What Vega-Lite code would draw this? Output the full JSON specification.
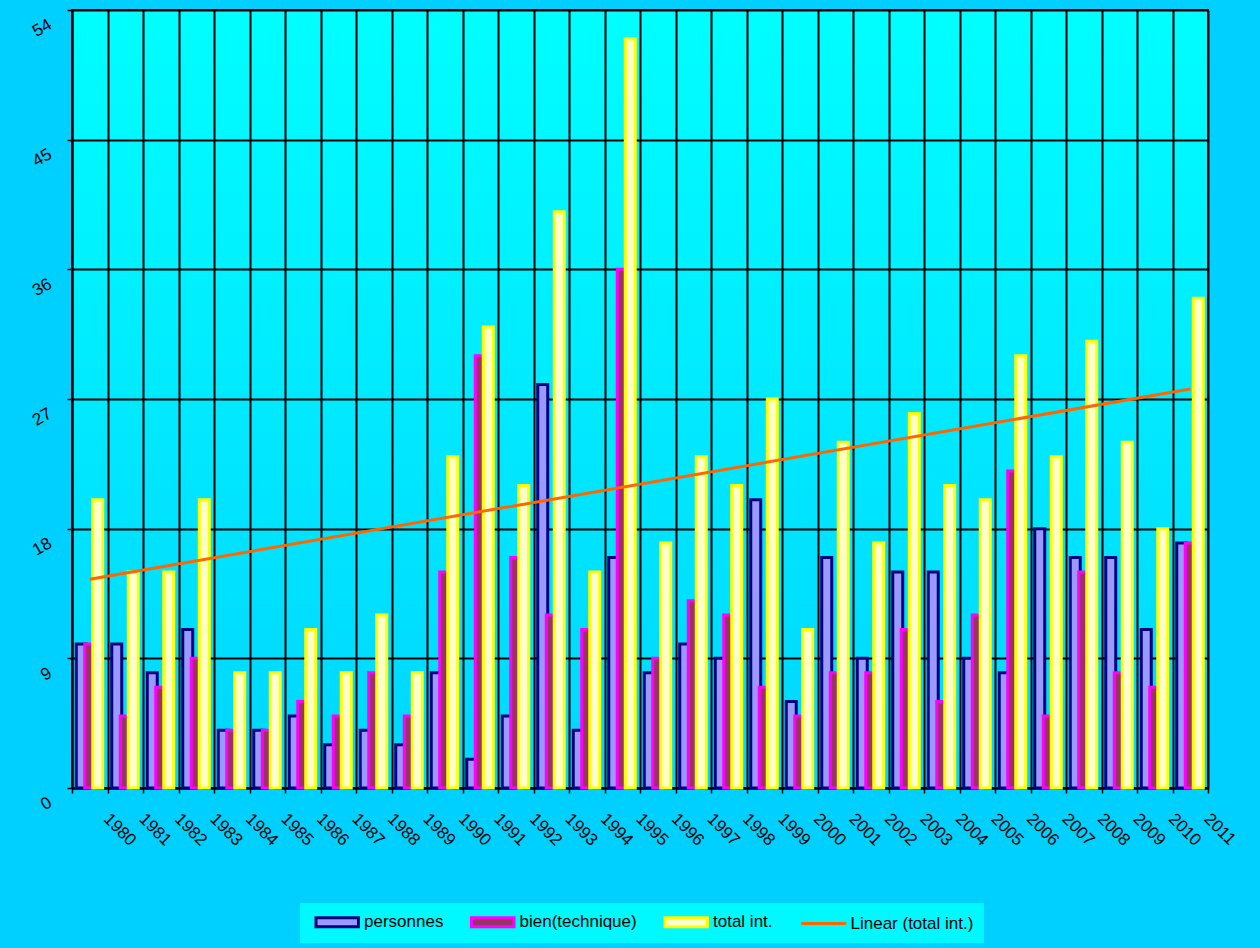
{
  "$schema": "https://vega.github.io/schema/vega-lite/v6.json",
  "width": 1136,
  "height": 778,
  "autosize": {"type": "none"},
  "padding": {"left": 72, "top": 10, "right": 52, "bottom": 160},
  "background": "#00D0FF",
  "view": {
    "fill": {"gradient": "linear", "x1": 0, "y1": 0, "x2": 0, "y2": 1,
      "stops": [{"offset": 0, "color": "#00FEFF"}, {"offset": 1, "color": "#00D6FF"}]},
    "stroke": "#000000",
    "strokeWidth": 2
  },
  "config": {
    "font": "Liberation Sans",
    "view": {
      "fill": {"gradient": "linear", "x1": 0, "y1": 0, "x2": 0, "y2": 1,
        "stops": [{"offset": 0, "color": "#00FEFF"}, {"offset": 1, "color": "#00D6FF"}]},
      "stroke": "#000000",
      "strokeWidth": 2
    },
    "axis": {
      "domainColor": "#000000", "domainWidth": 2,
      "tickColor": "#000000", "tickWidth": 1.5, "tickSize": 5,
      "gridColor": "#000000", "gridWidth": 2, "gridOpacity": 1,
      "labelColor": "#000000", "labelFontSize": 17, "labelFont": "Liberation Sans",
      "title": null
    },
    "legend": {
      "title": null, "orient": "none", "legendX": 228, "legendY": 893, "direction": "horizontal",
      "symbolSize": 225, "symbolStrokeWidth": 3, "symbolOpacity": 1, "symbolOffset": 18.25,
      "labelFontSize": 17, "labelFont": "Liberation Sans", "labelColor": "#000000",
      "labelOffset": 17.75, "columnPadding": 21.5, "padding": 10, "fillColor": "#00F8FF"
    }
  },
  "data": {
    "values": [
      {"year": 1980, "personnes": 10, "bien": 10, "total": 20},
      {"year": 1981, "personnes": 10, "bien": 5, "total": 15},
      {"year": 1982, "personnes": 8, "bien": 7, "total": 15},
      {"year": 1983, "personnes": 11, "bien": 9, "total": 20},
      {"year": 1984, "personnes": 4, "bien": 4, "total": 8},
      {"year": 1985, "personnes": 4, "bien": 4, "total": 8},
      {"year": 1986, "personnes": 5, "bien": 6, "total": 11},
      {"year": 1987, "personnes": 3, "bien": 5, "total": 8},
      {"year": 1988, "personnes": 4, "bien": 8, "total": 12},
      {"year": 1989, "personnes": 3, "bien": 5, "total": 8},
      {"year": 1990, "personnes": 8, "bien": 15, "total": 23},
      {"year": 1991, "personnes": 2, "bien": 30, "total": 32},
      {"year": 1992, "personnes": 5, "bien": 16, "total": 21},
      {"year": 1993, "personnes": 28, "bien": 12, "total": 40},
      {"year": 1994, "personnes": 4, "bien": 11, "total": 15},
      {"year": 1995, "personnes": 16, "bien": 36, "total": 52},
      {"year": 1996, "personnes": 8, "bien": 9, "total": 17},
      {"year": 1997, "personnes": 10, "bien": 13, "total": 23},
      {"year": 1998, "personnes": 9, "bien": 12, "total": 21},
      {"year": 1999, "personnes": 20, "bien": 7, "total": 27},
      {"year": 2000, "personnes": 6, "bien": 5, "total": 11},
      {"year": 2001, "personnes": 16, "bien": 8, "total": 24},
      {"year": 2002, "personnes": 9, "bien": 8, "total": 17},
      {"year": 2003, "personnes": 15, "bien": 11, "total": 26},
      {"year": 2004, "personnes": 15, "bien": 6, "total": 21},
      {"year": 2005, "personnes": 9, "bien": 12, "total": 20},
      {"year": 2006, "personnes": 8, "bien": 22, "total": 30},
      {"year": 2007, "personnes": 18, "bien": 5, "total": 23},
      {"year": 2008, "personnes": 16, "bien": 15, "total": 31},
      {"year": 2009, "personnes": 16, "bien": 8, "total": 24},
      {"year": 2010, "personnes": 11, "bien": 7, "total": 18},
      {"year": 2011, "personnes": 17, "bien": 17, "total": 34}
    ]
  },
  "layer": [
    {
      "layer": [
        {
          "mark": {"type": "bar", "width": 10, "xOffset": -8.5, "fill": "#9999FF", "stroke": "#000080", "strokeWidth": 3},
          "encoding": {
            "x": {
              "field": "year", "type": "ordinal",
              "scale": {"paddingInner": 0, "paddingOuter": 0},
              "axis": {"tickBand": "extent", "grid": true, "labelAngle": 45, "labelAlign": "left", "labelBaseline": "middle", "labelOffset": 16, "labelPadding": 23}
            },
            "y": {
              "field": "personnes", "type": "quantitative",
              "scale": {"domain": [0, 54], "nice": false},
              "axis": {"values": [0, 9, 18, 27, 36, 45, 54], "grid": true, "labelAngle": -30, "labelAlign": "right", "labelBaseline": "middle", "labelPadding": 17, "labelOffset": 13}
            }
          }
        },
        {
          "mark": {"type": "bar", "width": 10, "xOffset": 0, "fill": "#993366", "stroke": "#FF00FF", "strokeWidth": 3},
          "encoding": {
            "x": {"field": "year", "type": "ordinal"},
            "y": {"field": "bien", "type": "quantitative"}
          }
        },
        {
          "mark": {"type": "bar", "width": 10, "xOffset": 8, "fill": "#FFFFCC", "stroke": "#FFFF00", "strokeWidth": 3},
          "encoding": {
            "x": {"field": "year", "type": "ordinal"},
            "y": {"field": "total", "type": "quantitative"}
          }
        }
      ]
    },
    {
      "layer": [
        {
          "transform": [{"regression": "total", "on": "year"}],
          "mark": {"type": "line", "stroke": "#FF6600", "strokeWidth": 3},
          "encoding": {
            "x": {"field": "year", "type": "quantitative", "scale": {"domain": [1979.5, 2011.5], "nice": false, "zero": false}, "axis": null},
            "y": {"field": "total", "type": "quantitative"}
          }
        },
        {
          "mark": {"type": "point", "opacity": 0},
          "encoding": {
            "x": {"field": "year", "type": "quantitative"},
            "y": {"field": "total", "type": "quantitative"},
            "fill": {
              "datum": "personnes", "type": "nominal",
              "scale": {"domain": ["personnes", "bien(technique)", "total int.", "Linear (total int.)"], "range": ["#9999FF", "#993366", "#FFFFCC", "#FF6600"]}
            },
            "stroke": {
              "datum": "personnes", "type": "nominal",
              "scale": {"domain": ["personnes", "bien(technique)", "total int.", "Linear (total int.)"], "range": ["#000080", "#FF00FF", "#FFFF00", "#FF6600"]}
            },
            "shape": {
              "datum": "personnes", "type": "nominal",
              "scale": {"domain": ["personnes", "bien(technique)", "total int.", "Linear (total int.)"], "range": ["M-2.8333,-0.6H2.8333V0.6H-2.8333Z", "M-2.8333,-0.6H2.8333V0.6H-2.8333Z", "M-2.8333,-0.6H2.8333V0.6H-2.8333Z", "M-3,0H3"]}
            }
          }
        }
      ]
    }
  ],
  "resolve": {"scale": {"x": "independent"}, "axis": {"x": "independent"}}
}
